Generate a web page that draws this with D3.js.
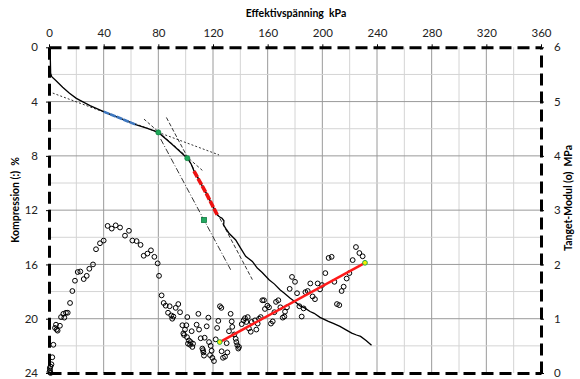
<!DOCTYPE html>
<html>
<head>
<meta charset="utf-8">
<script src="https://cdn.jsdelivr.net/npm/d3@7"></script>
<style>
  html, body { margin: 0; padding: 0; background: #fff; }
  svg { display: block; font-family: Lato, "Liberation Sans", sans-serif; }
  .title { white-space: pre; font-size: 10.5px; font-weight: bold; }
</style>
</head>
<body>
<svg id="chart" width="580" height="379"></svg>
<script>
// Axis ticks
const stressTicks = [0, 40, 80, 120, 160, 200, 240, 280, 320, 360];
const compressionTicks = [0, 4, 8, 12, 16, 20, 24];
const modulusTicks = [0, 1, 2, 3, 4, 5, 6];

// Oedometer curve: effective stress (kPa) vs compression (%)
const curveStress = [0, 0.5, 0.9, 1.0, 1.2, 2, 5, 10, 15, 20, 30, 40, 50, 64, 72, 80, 90, 101.2, 104, 106.1, 115, 123.2,
  125, 126.6, 128, 127.8, 129.3, 131.7, 136.6, 140.2, 143.9, 148.8, 152.4, 156, 161, 165, 169, 172, 176.3, 180, 183.7,
  187, 191, 194, 198.3, 204.4, 208, 212.9, 217, 221.5, 225, 228, 232, 236];
const curveCompression = [0, 0.2, 0.5, 1.0, 1.9, 2.16, 2.45, 2.95, 3.38, 3.76, 4.3, 4.74, 5.14, 5.72, 5.98, 6.27, 7.15, 8.17, 8.6, 9.12, 10.75, 12.37,
  12.5, 12.6, 12.78, 13.1, 13.34, 13.7, 14.2, 14.8, 15.4, 15.78, 16.27, 16.6, 17.13, 17.45, 17.87, 18.1, 18.48, 18.75, 19.05,
  19.2, 19.47, 19.6, 19.9, 20.2, 20.35, 20.57, 20.8, 21.06, 21.2, 21.3, 21.6, 21.95];

// Highlighted stress ranges on the curve
const overconsolidatedRange = [40, 64];
const normalRange = [106.1, 123.2];

// Construction lines [[kPa, %], [kPa, %]]
const preTangent = [[0, 3.27], [124.4, 7.93]];
const chordLine = [[69.5, 5.29], [112.2, 9.07]];
const steepTangent = [[85.9, 5.17], [148.8, 17.12]];
const offsetTangent = [[81.7, 6.76], [132.9, 16.39]];

// Marked points on the curve
const curveMarks = [[80, 6.27], [101.2, 8.17]];
const offsetMark = [[113.4, 12.73]];

// Tangent modulus: effective stress (kPa), modulus (MPa)
const modulusPoints = [
  [0.3, 0.02], [0.8, 0.05], [1.2, 0.0], [0.6, 0.09], [1.1, 0.12], [1.8, 0.16], [2.4, 0.29], [3.2, 0.52], [4.4, 0.83], [5.1, 0.89],
  [5.6, 0.8], [6.3, 0.78], [8, 0.87], [8.8, 1.03], [10.5, 1.09], [11.2, 1.02], [12.4, 1.11], [13.7, 1.11],
  [15.4, 1.29], [17.1, 1.51], [19, 1.7], [21, 1.86], [22.9, 1.87], [25.4, 1.73], [27.6, 1.79], [29.5, 1.92],
  [32.2, 2.0], [34.4, 2.28], [37.3, 2.39], [40, 2.44], [42.9, 2.71], [45.9, 2.66], [48.8, 2.72], [52, 2.68],
  [55.6, 2.53], [58.5, 2.62], [61, 2.44], [64.1, 2.43], [67, 2.36], [69.3, 2.16], [72, 2.2], [74.6, 2.26],
  [77.1, 2.14], [79.5, 2.02],
  [80.5, 1.79], [82.4, 1.43], [83.9, 1.29], [85.4, 1.24], [87.1, 1.11], [88.3, 1.23], [89.5, 1.06], [90.2, 1.0],
  [91, 1.04], [92.7, 1.2], [94.6, 1.27], [95.9, 1.12], [101.2, 1.03], [100.5, 0.88], [99.5, 0.8], [97.6, 0.88],
  [98.3, 0.73], [98.8, 0.7], [101, 0.66], [102.4, 0.6], [101.7, 0.54], [103.2, 0.52], [103.7, 0.57], [104.9, 0.48],
  [105.4, 0.54], [104.4, 0.77], [108, 0.89], [109.3, 1.09], [109.8, 0.8], [111, 0.64], [112.2, 0.45], [112.7, 0.42],
  [113, 0.38], [113.4, 0.32], [113.9, 0.65], [115.4, 0.86], [116.6, 1.02], [117.1, 0.57], [118.3, 0.5], [117.8, 0.33],
  [119, 0.41], [119.5, 0.28], [120.7, 0.22], [122, 0.62], [123, 0.83], [123.9, 0.96], [125.1, 1.23], [126.1, 1.2],
  [126.3, 0.4], [127.3, 0.28], [128.8, 0.3], [130, 0.55], [130.5, 0.38], [131.7, 0.77], [132.9, 1.09], [133.7, 0.95],
  [134.1, 0.85], [135.6, 0.71], [136.6, 0.63], [137.1, 0.57], [137.8, 0.51], [138.5, 0.45], [139, 0.48], [141, 0.9],
  [142.4, 0.97], [143.4, 1.01], [144.4, 0.94], [145.4, 1.03], [146.3, 0.82], [147.6, 0.76], [148.3, 0.94],
  [150.7, 0.97], [151.7, 0.8], [152.7, 0.91], [153.7, 1.0], [154.9, 1.03], [156.1, 1.34], [157.3, 1.34], [158, 1.18],
  [159.8, 1.24],
  [161, 1.21], [162.4, 0.91], [163.7, 0.95], [164.9, 1.12], [166.1, 1.31], [167.8, 1.34], [169.3, 1.21], [171, 1.02],
  [172.2, 1.04], [172.7, 1.13], [174.1, 1.21], [176.1, 1.55], [177.8, 1.77], [180, 1.68], [181.5, 1.47], [183.2, 1.23],
  [184.9, 1.04], [186.3, 1.19], [187.6, 1.49], [189.3, 1.51], [191.2, 1.65], [192.9, 1.41], [194.6, 1.36],
  [196.6, 1.65], [198.3, 1.54], [199.8, 1.62], [202.2, 1.84], [204.6, 2.12], [206.8, 2.14], [208.8, 1.68],
  [210.7, 1.27], [212.4, 1.25], [214.1, 1.51], [215.6, 1.59], [217.8, 1.74], [219.8, 1.84], [222.2, 2.08],
  [224.6, 2.32], [227.1, 2.21], [229.5, 2.15]
];

// Linear fit of the modulus above preconsolidation
const modulusFit = [[124.9, 0.57], [231.2, 2.03]];

const svg = d3.select("#chart");
const plotLeft = 49, plotRight = 541, plotTop = 47.3, plotBottom = 373;

const x = d3.scaleLinear().domain([0, 360]).range([plotLeft, plotRight]);
const yL = d3.scaleLinear().domain([0, 24]).range([plotTop, plotBottom]);
const yR = d3.scaleLinear().domain([0, 6]).range([plotBottom, plotTop]);

// Grid: minor every 20 kPa / 2 %, major every 40 kPa / 4 %
const grid = svg.append("g");
d3.range(20, 360, 20).forEach(v => {
  const major = v % 40 === 0;
  grid.append("line")
    .attr("x1", x(v)).attr("x2", x(v)).attr("y1", plotTop).attr("y2", plotBottom)
    .attr("stroke", major ? "#9a9a9a" : "#d4d4d4").attr("stroke-width", 1);
});
d3.range(2, 24, 2).forEach(v => {
  const major = v % 4 === 0;
  grid.append("line")
    .attr("x1", plotLeft).attr("x2", plotRight).attr("y1", yL(v)).attr("y2", yL(v))
    .attr("stroke", major ? "#9a9a9a" : "#d4d4d4").attr("stroke-width", 1);
});

// Axes with heavy dashed domain lines
function styleAxis(g) {
  g.select(".domain").attr("stroke", "#000").attr("stroke-width", 3).attr("stroke-dasharray", "12,6");
  g.selectAll(".tick line").attr("stroke", "#000").attr("stroke-width", 1);
  g.selectAll(".tick text").attr("fill", "#222").style("font-size", "11.5px").style("font-family", "Lato, sans-serif");
}
const intFmt = d3.format("d");

svg.append("g").attr("transform", `translate(0,${plotTop})`)
  .call(d3.axisTop(x).tickValues(stressTicks).tickFormat(intFmt).tickSize(3).tickSizeOuter(0).tickPadding(7))
  .call(styleAxis);
svg.append("g").attr("transform", `translate(0,${plotBottom})`)
  .call(d3.axisBottom(x).tickValues(stressTicks).tickSize(0).tickSizeOuter(0).tickFormat(""))
  .call(styleAxis);
svg.append("g").attr("transform", `translate(${plotLeft},0)`)
  .call(d3.axisLeft(yL).tickValues(compressionTicks).tickFormat(intFmt).tickSize(3).tickSizeOuter(0).tickPadding(8))
  .call(styleAxis);
svg.append("g").attr("transform", `translate(${plotRight},0)`)
  .call(d3.axisRight(yR).tickValues(modulusTicks).tickFormat(intFmt).tickSize(3).tickSizeOuter(0).tickPadding(10))
  .call(styleAxis);

// Axis titles
svg.append("text").attr("class", "title").attr("x", 296).attr("y", 17).attr("text-anchor", "middle")
  .text("Effektivspänning  kPa");
svg.append("text").attr("class", "title").attr("transform", `translate(19,200) rotate(-90)`).attr("text-anchor", "middle")
  .text("Kompression (:)  %");
svg.append("text").attr("class", "title").attr("transform", `translate(572,198) rotate(-90)`).attr("text-anchor", "middle")
  .text("Tanget-Modul (o)  MPa");

const curve = curveStress.map((s, i) => [s, curveCompression[i]]);
const lineL = d3.line().x(d => x(d[0])).y(d => yL(d[1]));
const lineR = d3.line().x(d => x(d[0])).y(d => yR(d[1]));

// Modulus scatter
svg.append("g").selectAll("circle").data(modulusPoints).join("circle")
  .attr("cx", d => x(d[0])).attr("cy", d => yR(d[1])).attr("r", 2.4)
  .attr("fill", "none").attr("stroke", "#000").attr("stroke-width", 1);

// Construction lines
const constr = [
  [preTangent, "2,2"],
  [chordLine, "3,2"],
  [steepTangent, "4,2"],
  [offsetTangent, "6,2,1,2"]
];
constr.forEach(([pts, dash]) => {
  svg.append("path").attr("d", lineL(pts)).attr("fill", "none")
    .attr("stroke", "#000").attr("stroke-width", 0.8).attr("stroke-dasharray", dash);
});

// Compression curve
svg.append("path").attr("d", lineL(curve)).attr("fill", "none")
  .attr("stroke", "#000").attr("stroke-width", 1.3);

// Highlighted stretches of the curve, drawn over it
const inRange = r => curve.filter(d => d[0] >= r[0] && d[0] <= r[1] && d[1] > 3);
svg.append("path").attr("d", lineL(inRange(overconsolidatedRange))).attr("fill", "none")
  .attr("stroke", "#3f78c0").attr("stroke-width", 2.6).attr("stroke-dasharray", "6,1");
svg.append("path").attr("d", lineL(inRange(normalRange))).attr("fill", "none")
  .attr("stroke", "#ee1111").attr("stroke-width", 3.6).attr("stroke-dasharray", "7,1.5");

// Modulus fit line
svg.append("path").attr("d", lineR(modulusFit)).attr("fill", "none")
  .attr("stroke", "#ff1a1a").attr("stroke-width", 2.5);

// Markers
svg.append("g").selectAll("circle").data(curveMarks).join("circle")
  .attr("cx", d => x(d[0])).attr("cy", d => yL(d[1])).attr("r", 2.6)
  .attr("fill", "#1fa85a").attr("stroke", "#0d7a3a").attr("stroke-width", 0.6);
svg.append("g").selectAll("rect").data(offsetMark).join("rect")
  .attr("x", d => x(d[0]) - 2.5).attr("y", d => yL(d[1]) - 2.5).attr("width", 5).attr("height", 5)
  .attr("fill", "#23a860").attr("stroke", "#0f7a40").attr("stroke-width", 0.8);
svg.append("g").selectAll("circle").data(modulusFit).join("circle")
  .attr("cx", d => x(d[0])).attr("cy", d => yR(d[1])).attr("r", 2.4)
  .attr("fill", "#f5f000").attr("stroke", "#2aa84a").attr("stroke-width", 1);
</script>
</body>
</html>
